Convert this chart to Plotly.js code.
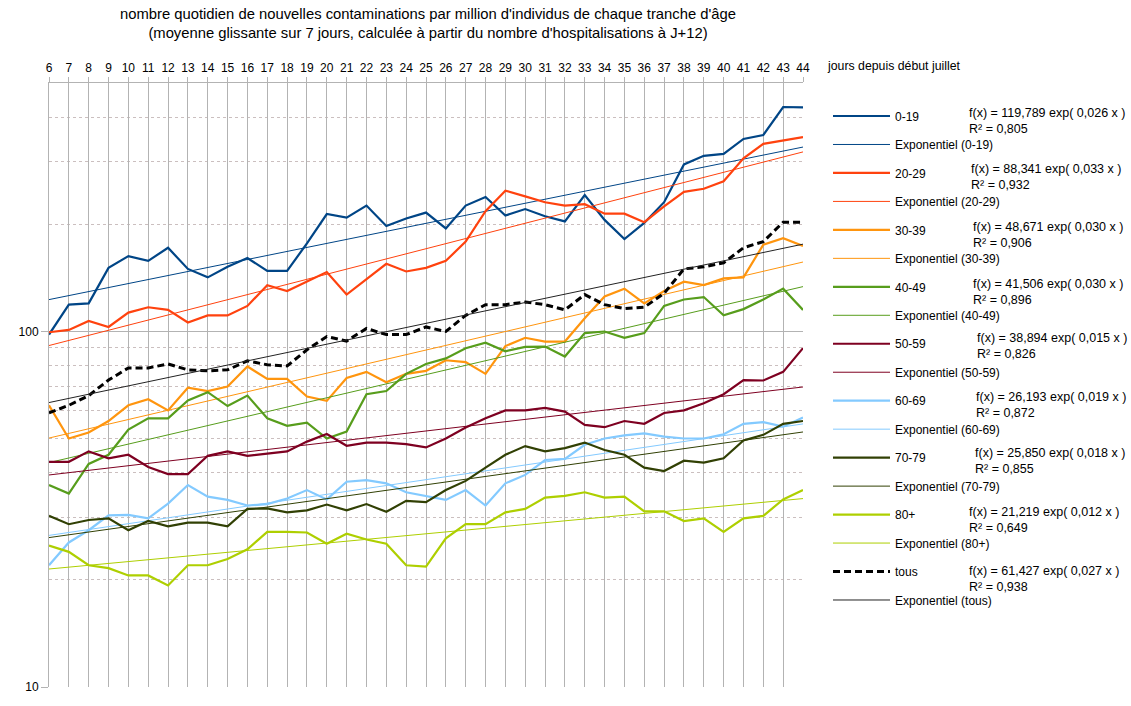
<!DOCTYPE html>
<html><head><meta charset="utf-8">
<script src="https://cdn.plot.ly/plotly-3.0.1.min.js"></script>
<style>html,body{margin:0;padding:0;background:#fff}</style>
</head><body><div id="chart" style="width:1131px;height:706px"></div>
<script>
// ---------- DATA ----------
const days = [6,7,8,9,10,11,12,13,14,15,16,17,18,19,20,21,22,23,24,25,26,27,28,29,30,31,32,33,34,35,36,37,38,39,40,41,42,43,44];
const groups = ['0-19','20-29','30-39','40-49','50-59','60-69','70-79','80+','tous'];

const v0_19  = [98,119,120,151,163,158,172,150,142,152,161,148,148,177,214,209,226,198,208,216,195,226,239,212,221,211,204,242,206,182,202,231,295,312,316,348,357,428,427];
const v20_29 = [99.5,101,107,103,113,117,115,106,111,111,118,135,130,138,147,127,140,155,147.5,151,158,179,218,249,240,231,226,228,214.5,214.5,203,225,247,252,264.5,307,337,345,352];
const v30_39 = [62,50,52,56,62,64.5,60,69.5,68,70,79.7,73.6,73.6,65.6,63.8,74,77,72,76,77.5,83,82,76,91,96,93.7,93.7,109,125.5,132,120,130,138,135,141,142,175.5,183,174];
const v40_49 = [37,35,42.4,45,53,57,57,64,67.5,61.7,66,57,54.3,55.4,50,52.3,66.6,68,76,81,84,89.7,93,88,90.5,90.7,85,99,100,96,99,118,123,125,111,115.6,123,132,115];
const v50_59 = [43,43,46,44,45,41.6,39.7,39.7,44.7,46,44.7,45.4,46,49,51.5,47.7,48.7,48.7,48.2,47.2,50,53.7,57,60,60,61,59.5,54.6,53.8,56,55,59,60,62.8,66.6,73,72.8,77,89.8];
const v60_69 = [22,25.5,27.6,30.4,30.5,29.8,32.8,37,34.3,33.6,32.4,32.7,33.9,35.8,33.7,37.8,38.2,37.4,35.3,34.5,33.6,35.8,32.4,37.4,39.5,43.5,43.8,48,50,51,51.7,50.6,50,50,51.4,55,55.6,54,57.3];
const v70_79 = [30.3,28.7,29.5,29.8,27.6,29.3,28.3,29,29,28.3,31.7,31.8,31,31.4,32.6,31.4,32.7,31.1,33.4,33.1,35.8,38,41.4,45,47.6,46,47,48.7,46.4,45,41.4,40.5,43.3,42.8,44,49.4,51.2,55,56];
const v80    = [25,24,22,21.6,20.6,20.6,19.3,22,22,22.9,24.4,27.3,27.3,27.2,25.3,27,26,25.3,22,21.8,26.2,28.7,28.7,31,31.7,34.1,34.5,35.3,34.1,34.3,31.2,31.2,29.3,29.8,27.3,29.8,30.3,33.7,35.8];
const vTous  = [59,62,66,73,79,79,81,78,77.5,78,82.7,80.6,80,88.8,96.8,94,102,98,98,103,100,111,119,119,121,119,115,127,119,116,117,128,150,152,156,172,179,203,203];

// exponential trend coefficients as printed in the legend: f(x) = a exp(b x)
const trendA = [119.789, 88.341, 48.671, 41.506, 38.894, 26.193, 25.850, 21.219, 61.427];
const trendB = [0.026, 0.033, 0.030, 0.030, 0.015, 0.019, 0.018, 0.012, 0.027];
const trendAText = ['119,789','88,341','48,671','41,506','38,894','26,193','25,850','21,219','61,427'];
const trendBText = ['0,026','0,033','0,030','0,030','0,015','0,019','0,018','0,012','0,027'];
const trendR2Text = ['0,805','0,932','0,906','0,896','0,826','0,872','0,855','0,649','0,938'];

const yTickVals = [10, 100];
const yTickText = ['10', '100'];
const yMinorVals = [20,30,40,50,60,70,80,90,200,300,400];

const titleText = "nombre quotidien de nouvelles contaminations par million d'individus de chaque tranche d'âge<br>(moyenne glissante sur 7 jours, calculée à partir du nombre d'hospitalisations à J+12)";
const xTitleText = 'jours depuis début juillet';

// ---------- STYLE ----------
const seriesValues = [v0_19, v20_29, v30_39, v40_49, v50_59, v60_69, v70_79, v80, vTous];
const colors = ['#004586','#ff420e','#ff950e','#579d1c','#7e0021','#83caff','#314004','#aecf00','#000000'];
const trendColors = ['#004586','#ff420e','#ff950e','#579d1c','#7e0021','#83caff','#314004','#aecf00','#222222'];

// plot area in px
const PL = 49, PR = 803, PT = 83, PB = 687;
const px2x = p => (p - PL) / (PR - PL);
const px2y = p => (PB - p) / (PB - PT);

const traces = [];
seriesValues.forEach((vals, i) => {
  const isTous = groups[i] === 'tous';
  traces.push({
    type: 'scatter', mode: 'lines', x: days, y: vals, name: groups[i],
    legendgroup: 'g' + i + 's',
    line: {color: colors[i], width: isTous ? 3 : 2.2, dash: isTous ? '7px,4px' : 'solid'},
    hoverinfo: 'x+y+name'
  });
  const ty = days.map((d, k) => trendA[i] * Math.exp(trendB[i] * (k + 1)));
  traces.push({
    type: 'scatter', mode: 'lines', x: days, y: ty, name: 'Exponentiel (' + groups[i] + ')',
    legendgroup: 'g' + i + 't',
    line: {color: trendColors[i], width: 1},
    hoverinfo: 'skip'
  });
});

// equation annotations next to the legend entries (positions in px)
const eqX = [967, 969, 971, 971, 975, 974, 973, 967, 967];
const eqY = [121.3, 177, 235.3, 291.8, 345.5, 404.8, 460.8, 519.7, 579.2];
const annotations = groups.map((g, i) => ({
  xref: 'paper', yref: 'paper', x: px2x(eqX[i]), y: px2y(eqY[i]),
  xanchor: 'left', yanchor: 'middle', align: 'left', showarrow: false,
  text: 'f(x) = ' + trendAText[i] + ' exp( ' + trendBText[i] + ' x )<br>R² = ' + trendR2Text[i],
  font: {size: 12.5, color: '#000'}
}));
annotations.push({
  xref: 'paper', yref: 'paper', x: px2x(825), y: px2y(66),
  xanchor: 'left', yanchor: 'middle', showarrow: false,
  text: xTitleText, font: {size: 12.3, color: '#000'}
});

const layout = {
  width: 1131, height: 706,
  margin: {l: PL, r: 1131 - PR, t: PT, b: 706 - PB, pad: 0},
  paper_bgcolor: '#ffffff', plot_bgcolor: '#ffffff',
  font: {family: 'Liberation Sans, Arial, sans-serif', size: 12, color: '#000'},
  title: {text: titleText, x: px2x(428), xref: 'paper', xanchor: 'center',
          y: 1 - 18.5 / 706, yref: 'container', yanchor: 'middle',
          font: {size: 14.8, color: '#000'}},
  showlegend: true,
  legend: {x: px2x(828), xanchor: 'left', y: px2y(101.5), yanchor: 'top',
           traceorder: 'grouped', tracegroupgap: 9.47, bgcolor: 'rgba(0,0,0,0)',
           borderwidth: 0, font: {size: 12, color: '#000'}, itemwidth: 57, itemclick: false, itemdoubleclick: false},
  xaxis: {type: 'linear', range: [6, 44], side: 'top', tickmode: 'array', tickvals: days,
          showgrid: true, gridcolor: '#b3b3b3', gridwidth: 1, zeroline: false,
          showline: true, linecolor: '#b3b3b3', linewidth: 1,
          ticks: 'outside', ticklen: 5, tickcolor: '#b3b3b3', tickfont: {size: 12, color: '#000'}, fixedrange: true},
  yaxis: {type: 'log', range: [1, Math.log10(500)], tickmode: 'array', tickvals: yTickVals, ticktext: yTickText,
          showgrid: true, gridcolor: '#b3b3b3', gridwidth: 1, zeroline: false,
          showline: true, linecolor: '#b3b3b3', linewidth: 1,
          ticks: 'outside', ticklen: 7, tickcolor: '#b3b3b3', tickfont: {size: 12, color: '#000'}, fixedrange: true,
          minor: {tickmode: 'array', tickvals: yMinorVals, showgrid: true, gridcolor: '#cbbfbf', gridwidth: 1, griddash: '3px,3px', ticks: ''}},
  annotations: annotations
};

Plotly.newPlot('chart', traces, layout, {displayModeBar: false, staticPlot: false});
</script></body></html>
